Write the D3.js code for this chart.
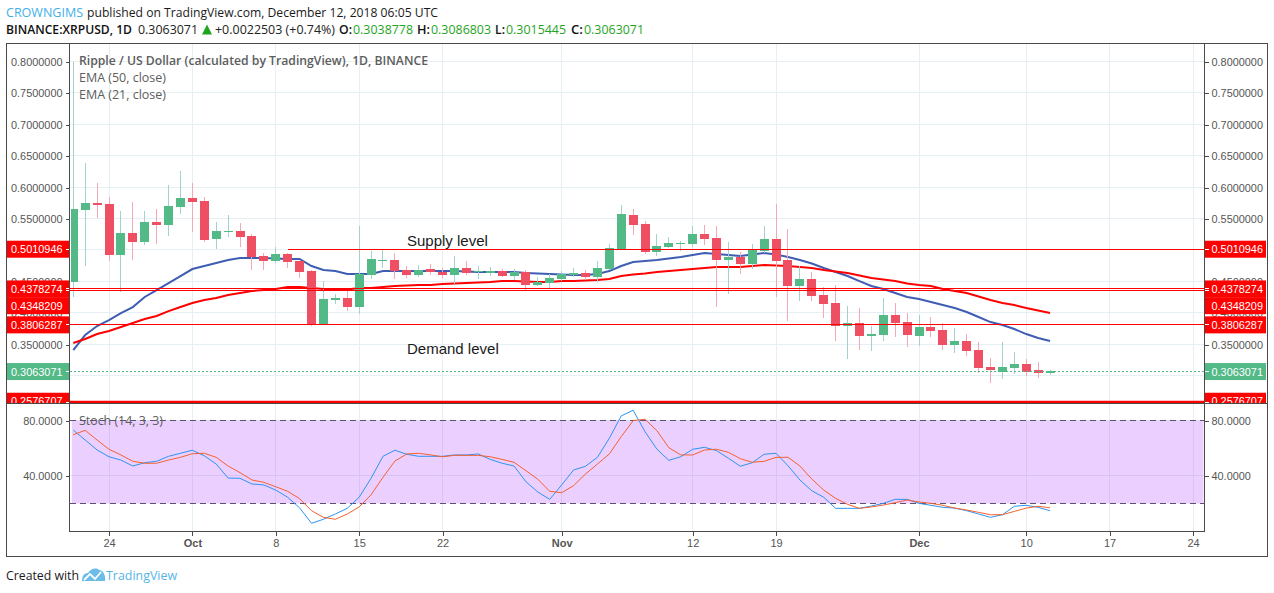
<!DOCTYPE html>
<html><head><meta charset="utf-8">
<script src="https://cdn.jsdelivr.net/npm/d3@7"></script>
<style>html,body{margin:0;padding:0;background:#fff}svg{display:block}
text{font-family:"Liberation Sans",Arial,sans-serif}
.ui{font-family:"Open Sans",sans-serif}</style></head><body>
<svg id="c" width="1274" height="593"></svg>
<script>
const firstDay = "2018-09-21";
const opens = [.4488,.5634,.5746,.5730,.4918,.5269,.5125,.5444,.5396,.5682,.5826,.5778,.5173,.5284,.5300,.5221,.4902,.4823,.4934,.4823,.4663,.3811,.4202,.4234,.4090,.4600,.4823,.4839,.4679,.4600,.4695,.4648,.4600,.4711,.4648,.4632,.4663,.4584,.4648,.4441,.4472,.4536,.4600,.4632,.4568,.4695,.5014,.5555,.5412,.4966,.5046,.5093,.5093,.5253,.5189,.4839,.4886,.4775,.4982,.5173,.4839,.4425,.4536,.4281,.4154,.3788,.3835,.3628,.3644,.3963,.3851,.3628,.3772,.3724,.3485,.3548,.3405,.3134,.3070,.3118,.3182,.3086,.3039];
const highs = [.7990,.6383,.6065,.5842,.5619,.5762,.5619,.5650,.6033,.6256,.6065,.5842,.5444,.5555,.5428,.5253,.4950,.5046,.4950,.4823,.4679,.4504,.4297,.4345,.5380,.4982,.5014,.4950,.4743,.4759,.4775,.4711,.4902,.4823,.4743,.4727,.4695,.4695,.4679,.4568,.4616,.4663,.4711,.4679,.4823,.5093,.5714,.5650,.5460,.5253,.5205,.5141,.5380,.5396,.5380,.5125,.4966,.5093,.5380,.5730,.5332,.4743,.4648,.4409,.4441,.4106,.4074,.3788,.4234,.4154,.3995,.3963,.3931,.3835,.3756,.3660,.3532,.3278,.3532,.3373,.3262,.3214,.3087];
const lows = [.4255,.4743,.5508,.4823,.4329,.4839,.5077,.5093,.5221,.5571,.5284,.5125,.5014,.5205,.5046,.4679,.4679,.4791,.4711,.4552,.3788,.3803,.4138,.4026,.3979,.4536,.4711,.4536,.4552,.4568,.4600,.4552,.4456,.4600,.4536,.4584,.4568,.4520,.4345,.4425,.4377,.4504,.4568,.4520,.4488,.4679,.4998,.5237,.4934,.4902,.5030,.4982,.5046,.5077,.4090,.4297,.4616,.4695,.4950,.4250,.3867,.4186,.4186,.3915,.3548,.3262,.3405,.3389,.3548,.3612,.3453,.3469,.3612,.3405,.3357,.3310,.3039,.2880,.2943,.3023,.2991,.2959,.3015];
const closes = [.5650,.5746,.5714,.4918,.5269,.5125,.5444,.5396,.5698,.5826,.5762,.5157,.5300,.5300,.5205,.4886,.4823,.4934,.4807,.4648,.3811,.4218,.4234,.4090,.4616,.4855,.4839,.4663,.4600,.4679,.4648,.4600,.4711,.4632,.4663,.4663,.4584,.4648,.4441,.4488,.4552,.4616,.4632,.4568,.4711,.5030,.5571,.5396,.4966,.5062,.5109,.5109,.5253,.5173,.4839,.4886,.4775,.4998,.5173,.4823,.4425,.4536,.4265,.4138,.3788,.3835,.3628,.3660,.3963,.3835,.3644,.3772,.3708,.3485,.3548,.3389,.3118,.3086,.3134,.3182,.3070,.3039,.3063];
const emaBlue = [.3405,.3644,.3788,.3883,.3995,.4090,.4250,.4361,.4472,.4584,.4695,.4743,.4791,.4839,.4870,.4870,.4870,.4863,.4855,.4855,.4743,.4679,.4663,.4616,.4616,.4616,.4663,.4663,.4663,.4663,.4663,.4663,.4663,.4655,.4648,.4648,.4648,.4648,.4632,.4624,.4616,.4608,.4600,.4600,.4616,.4663,.4743,.4807,.4823,.4839,.4863,.4886,.4918,.4950,.4934,.4918,.4902,.4926,.4950,.4926,.4886,.4839,.4783,.4711,.4648,.4584,.4504,.4425,.4377,.4313,.4250,.4218,.4170,.4122,.4074,.4011,.3931,.3851,.3803,.3740,.3660,.3597,.3549];
const emaRed = [.3517,.3581,.3660,.3708,.3772,.3835,.3899,.3947,.4026,.4090,.4154,.4202,.4234,.4281,.4313,.4345,.4361,.4377,.4409,.4409,.4393,.4377,.4377,.4369,.4393,.4393,.4409,.4425,.4433,.4441,.4441,.4456,.4464,.4472,.4480,.4488,.4504,.4504,.4496,.4488,.4488,.4504,.4504,.4512,.4520,.4536,.4584,.4608,.4624,.4648,.4663,.4679,.4695,.4711,.4727,.4727,.4727,.4743,.4759,.4751,.4743,.4727,.4711,.4679,.4655,.4632,.4592,.4552,.4528,.4504,.4465,.4441,.4425,.4377,.4345,.4313,.4258,.4202,.4154,.4122,.4074,.4035,.3995];
const stochK = [73.1,65.9,58.7,53.8,51.4,47.1,49.5,50.5,54.1,56.3,58.5,54.5,48.5,38.4,38.2,34.1,33.4,29.7,24.5,16.9,5.7,8.6,12.4,16.5,24.5,38.2,54.1,58.5,55.6,54.1,54.1,54.1,55.1,55.1,55.8,51.9,49.1,47.1,35.7,28.3,23.0,33.4,44.2,46.9,53.4,67.1,83.3,87.4,71.9,59.2,51.2,53.8,59.2,60.6,58.2,52.7,46.9,49.5,55.6,56.3,47.3,37.0,29.2,24.5,16.5,16.5,16.5,18.2,20.1,23.0,23.0,20.1,18.7,17.2,16.7,14.8,12.4,10.0,11.9,18.0,18.7,17.2,14.8];
const stochD = [69.7,72.9,65.9,59.2,55.1,50.5,49.1,49.1,51.4,53.4,56.0,56.3,53.4,47.1,42.3,37.0,35.3,32.1,28.8,23.5,14.8,10.0,8.6,12.4,17.5,26.3,38.9,50.7,55.8,56.3,55.1,53.8,54.8,54.8,54.8,53.8,51.9,49.8,43.7,37.5,28.8,27.8,32.9,41.3,48.5,55.8,68.3,79.9,80.9,72.6,60.3,55.1,55.1,58.7,59.2,57.0,52.4,49.8,50.5,53.4,53.4,47.1,37.7,29.7,23.7,19.4,16.5,17.5,18.9,20.6,22.5,21.1,20.1,18.7,16.7,15.3,13.6,11.9,11.9,14.3,16.7,18.0,16.9];
const priceTicks = [.30,.35,.40,.45,.50,.55,.60,.65,.70,.75,.80];
const stochTicks = [40,80];
const stochBands = [20,80];
const timeTicks = ["2018-09-24","2018-10-01","2018-10-08","2018-10-15","2018-10-22","2018-11-01","2018-11-12","2018-11-19","2018-12-01","2018-12-10","2018-12-17","2018-12-24"];
const timeLabels = ["24","Oct","8","15","22","Nov","12","19","Dec","10","17","24"];
const levels = [.5010946,.4378274,.4348209,.3806287,.2576707];
const levelTags = [.5010946,.4378274,.4112,.3806287,.2590];
const lastPrice = .3063071;

const F=6.5,FR=1267.5,FT=43.5,FB=556.5,L=69.5,R=1204.5,PS=403.5,AB=531.5;
const svg=d3.select("#c");
const day=i=>new Date(Date.parse(firstDay+"T00:00:00Z")+i*864e5);
const x=d3.scaleUtc().domain([new Date("2018-09-24T00:00:00Z"),new Date("2018-12-24T00:00:00Z")]).range([109,1193]);
const y=d3.scaleLinear().domain([.35,.8]).range([344.1,61.5]);
const ys=d3.scaleLinear().domain([20,80]).range([503.5,420.5]);
const GRID="#e6eff4",AXC="#4a4a4a",TXT="#555",UP="#53b987",DN="#ee4f62";
const dates=timeTicks.map(d=>new Date(d+"T00:00:00Z"));

const defs=svg.append("defs");
defs.append("clipPath").attr("id","pm").append("rect").attr("x",71).attr("y",FT).attr("width",R-71).attr("height",PS-FT-1);
defs.append("clipPath").attr("id","ps").append("rect").attr("x",L).attr("y",PS).attr("width",R-L).attr("height",AB-PS);
defs.append("clipPath").attr("id","tm").append("rect").attr("x",0).attr("y",FT).attr("width",1274).attr("height",PS-FT-.5);

// grid
const g=svg.append("g").attr("shape-rendering","crispEdges").attr("stroke",GRID);
g.selectAll(".v").data(dates).join("line").attr("x1",d=>Math.floor(x(d))+.5).attr("x2",d=>Math.floor(x(d))+.5).attr("y1",FT).attr("y2",AB);
g.selectAll(".h").data(priceTicks).join("line").attr("x1",L).attr("x2",R).attr("y1",d=>Math.floor(y(d))+.5).attr("y2",d=>Math.floor(y(d))+.5);
g.selectAll(".hs").data(stochTicks).join("line").attr("x1",L).attr("x2",R).attr("y1",d=>Math.floor(ys(d))+.5).attr("y2",d=>Math.floor(ys(d))+.5);

// stoch band
svg.append("rect").attr("x",x(day(0))-1.5).attr("y",ys(80)).attr("width",R-1-x(day(0))+1.5).attr("height",ys(20)-ys(80)).attr("fill","rgba(153,21,255,.2)");
svg.selectAll(".bd").data(stochBands).join("line").attr("x1",L).attr("x2",R).attr("y1",d=>ys(d)).attr("y2",d=>ys(d))
  .attr("stroke","#5f5070").attr("stroke-dasharray","6 4").attr("shape-rendering","crispEdges");

// EMAs
const pm=svg.append("g").attr("clip-path","url(#pm)");
const ln=a=>d3.line().x((d,i)=>x(day(i))).y(d=>a(d));
pm.append("path").datum(emaBlue).attr("d",ln(y)).attr("fill","none").attr("stroke","#3f5db3").attr("stroke-width",2);
pm.append("path").datum(emaRed).attr("d",ln(y)).attr("fill","none").attr("stroke","#ff0000").attr("stroke-width",2);

// candles
const idx=d3.range(opens.length);
const col=i=>closes[i]>=opens[i]?UP:DN;
const cx=i=>Math.round(x(day(i))-.5);
const bodyTop=i=>Math.floor(y(Math.max(opens[i],closes[i]))+.1);
const bodyBot=i=>Math.ceil(y(Math.min(opens[i],closes[i]))-.1);
pm.append("g").attr("shape-rendering","crispEdges").selectAll("rect").data(idx).join("rect")
  .attr("x",cx).attr("width",1).attr("y",i=>y(highs[i])).attr("height",i=>y(lows[i])-y(highs[i]))
  .attr("fill",i=>closes[i]>=opens[i]?"#a3d1cf":"#f5a8b5");
pm.append("g").attr("shape-rendering","crispEdges").selectAll("rect").data(idx).join("rect")
  .attr("x",i=>cx(i)-4).attr("width",9).attr("y",bodyTop)
  .attr("height",i=>Math.max(1,bodyBot(i)-bodyTop(i)))
  .attr("fill",col);

// last price dotted
svg.append("line").attr("x1",L).attr("x2",R).attr("y1",Math.floor(y(lastPrice))+.5).attr("y2",Math.floor(y(lastPrice))+.5)
  .attr("stroke",UP).attr("stroke-dasharray","2 2").attr("shape-rendering","crispEdges");

// level lines
const lg=svg.append("g");
lg.selectAll("line").data(levels).join("line")
  .attr("x1",(d,i)=>i==0?x(new Date("2018-10-09T00:00:00Z")):L).attr("x2",R)
  .attr("y1",(d,i)=>i==4?y(d):Math.floor(y(d))+.5).attr("y2",(d,i)=>i==4?y(d):Math.floor(y(d))+.5).attr("stroke","#ff0000")
  .attr("stroke-width",(d,i)=>i==4?2.6:1).attr("shape-rendering",(d,i)=>i==4?"auto":"crispEdges");

// stoch lines
const ps=svg.append("g").attr("clip-path","url(#ps)");
ps.append("path").datum(stochK).attr("d",ln(ys)).attr("fill","none").attr("stroke","#2e93f0").attr("stroke-width",1);
ps.append("path").datum(stochD).attr("d",ln(ys)).attr("fill","none").attr("stroke","#f4602e").attr("stroke-width",1);

// axes
function styleAxis(s,fs){s.select(".domain").remove();s.selectAll("line").attr("stroke",AXC).attr("shape-rendering","crispEdges");
  s.selectAll("text").attr("fill",TXT).attr("font-size",fs).attr("font-family",'"Liberation Sans",Arial,sans-serif');}
const fmt7=d=>d3.format(".7f")(d), fmt4=d=>d3.format(".4f")(d);
const tm=svg.append("g").attr("clip-path","url(#tm)");
[[d3.axisLeft,L,-1],[d3.axisRight,R,1]].forEach(([ax,px])=>{
  tm.append("g").attr("transform",`translate(${px},0.5)`).call(ax(y).tickValues(priceTicks.filter(d=>d>=.35)).tickFormat(fmt7).tickSize(4).tickPadding(3)).call(styleAxis,10.9);
  svg.append("g").attr("transform",`translate(${px},0.5)`).call(ax(ys).tickValues(stochTicks).tickFormat(fmt4).tickSize(4).tickPadding(3)).call(styleAxis,10.9);
});
const xa=svg.append("g").attr("transform",`translate(0,${AB})`).call(d3.axisBottom(x).tickValues(dates).tickFormat((d,i)=>timeLabels[i]).tickSize(4).tickPadding(4)).call(styleAxis,11);
xa.selectAll("text").attr("font-weight",(d,i)=>/[A-Z]/.test(timeLabels[i])?"bold":"normal");

// price tags
function tag(v,yv,fill){[[F+.5,L-F-.5,L-3.5,L,"end",L-7],[R,FR-R-1.5,R,R+4,"start",R+7]].forEach(([bx,bw,t1,t2,an,tx])=>{
  const cy=y(yv);
  const gg=tm.append("g");
  gg.append("rect").attr("x",bx).attr("y",cy-8.5).attr("width",bw).attr("height",17).attr("fill",fill);
  gg.append("line").attr("x1",t1).attr("x2",t2).attr("y1",Math.floor(y(v))+.5).attr("y2",Math.floor(y(v))+.5).attr("stroke","#fff").attr("shape-rendering","crispEdges");
  gg.append("text").attr("x",tx).attr("y",cy+4).attr("text-anchor",an).attr("fill","#fff").attr("font-size",10.9).text(fmt7(v));
});}
levels.forEach((v,i)=>tag(v,levelTags[i],"#ff0000"));
tag(lastPrice,lastPrice,UP);

// frame
const fr=svg.append("g").attr("shape-rendering","crispEdges").attr("stroke",AXC).attr("fill","none");
fr.append("rect").attr("x",F).attr("y",FT).attr("width",FR-F).attr("height",FB-FT);
[[L,FT,L,AB],[R,FT,R,AB],[F,PS,FR,PS],[L,AB,R,AB]].forEach(a=>fr.append("line").attr("x1",a[0]).attr("y1",a[1]).attr("x2",a[2]).attr("y2",a[3]));

// level notes
const note=(t,xx,yy)=>svg.append("text").attr("x",xx).attr("y",yy).attr("font-size",15).attr("fill","#1a1a1a").text(t);
note("Supply level",407,246);note("Demand level",407,354);

// legends
const lgd=(t,yy,w,len)=>svg.append("text").attr("class","ui").attr("x",79).attr("y",yy).attr("font-size",12).attr("font-weight",w).attr("fill","#5d5d5d").attr("textLength",len).attr("lengthAdjust","spacingAndGlyphs").text(t);
lgd("Ripple / US Dollar (calculated by TradingView), 1D, BINANCE",65,600,349);
lgd("EMA (50, close)",82,400,87);
lgd("EMA (21, close)",99,400,87);
lgd("Stoch (14, 3, 3)",425,400,84);

// header
const hd=(t,xx,yy,c,w,len)=>svg.append("text").attr("class","ui").attr("x",xx).attr("y",yy).attr("font-size",12.5).attr("fill",c).attr("font-weight",w||400).attr("textLength",len).attr("lengthAdjust","spacingAndGlyphs").text(t);
const HG="#1fa51f";
hd("CROWNGIMS",6,17,"#3fb0e8",400,77);
hd("published on TradingView.com, December 12, 2018 06:05 UTC",87,17,"#1a1a1a",400,351);
hd("BINANCE:XRPUSD, 1D",6,34,"#111",600,126);
hd("0.3063071",138,34,"#222",400,60);
svg.append("path").attr("d","M202 34.5L207 24.5L212 34.5Z").attr("fill",HG);
hd("+0.0022503 (+0.74%)",215,34,"#222",400,120);
hd("O:",339,34,"#111",600,13);hd("0.3038778",353,34,HG,400,60);
hd("H:",417,34,"#111",600,13);hd("0.3086803",431,34,HG,400,60);
hd("L:",495,34,"#111",600,10);hd("0.3015445",506,34,HG,400,60);
hd("C:",571,34,"#111",600,12);hd("0.3063071",584,34,HG,400,60);

// footer
hd("Created with",6,580,"#1a1a1a",400,73);
hd("TradingView",106,580,"#55b5e8",400,71);
svg.append("path").attr("d","M82 581 C82 575 85 573 88 573 C90 569 96 567 99 570 C103 570 106 575 105 581 Z").attr("fill","#6cbce8");
svg.append("path").attr("d","M84 580 L90 574 L95 579 L101 572").attr("fill","none").attr("stroke","#fff").attr("stroke-width",1.8);
</script></body></html>
